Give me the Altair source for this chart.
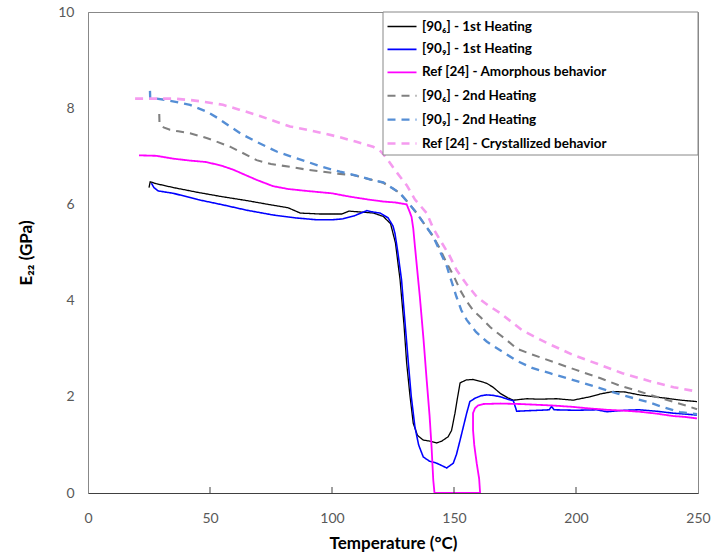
import altair as alt
import pandas as pd

series_names = [
    "[90\u2086] - 1st Heating",
    "[90\u2089] - 1st Heating",
    "Ref [24] - Amorphous behavior",
    "[90\u2086]  - 2nd Heating",
    "[90\u2089] - 2nd Heating",
    " Ref [24] - Crystallized behavior",
]

black_T = [25, 25.5, 28, 35, 45, 55, 65, 75, 82, 87, 95, 104, 107, 112, 117, 121, 124, 126, 127.9, 129.5, 130.6, 132, 133.3, 135, 137.4, 140, 142.9, 145, 147.6, 149, 150.4, 151.5, 152.5, 155, 157.8, 161, 163.4, 166, 169, 172, 174.3, 180, 185, 192, 198.8, 205.7, 210, 215.3, 220, 226, 232, 237, 243, 249.6]
black_E = [6.35, 6.47, 6.43, 6.35, 6.25, 6.16, 6.08, 5.99, 5.93, 5.82, 5.8, 5.8, 5.86, 5.84, 5.82, 5.75, 5.6, 5.2, 4.43, 3.5, 2.7, 2.0, 1.45, 1.2, 1.1, 1.08, 1.04, 1.08, 1.17, 1.3, 1.66, 2.0, 2.29, 2.35, 2.36, 2.32, 2.28, 2.2, 2.07, 1.98, 1.93, 1.96, 1.95, 1.96, 1.93, 2.0, 2.06, 2.11, 2.1, 2.04, 2.0, 1.97, 1.93, 1.9]

blue_T = [26, 27, 28.8, 35, 45, 55.3, 65, 75.8, 85, 93.8, 100, 104.5, 109, 114.3, 117, 119.7, 123, 125, 125.8, 127, 128.5, 130, 131.3, 132.5, 134, 135.5, 137.4, 140, 142.9, 145, 147, 149.7, 151, 152.5, 155.2, 156.5, 158.6, 161, 163.4, 166, 169, 172, 174.3, 175.7, 180, 185, 189, 190, 191, 200, 208.5, 212.6, 220, 226, 233, 239.8, 245, 249.6]
blue_E = [6.44, 6.35, 6.28, 6.23, 6.1, 5.99, 5.88, 5.78, 5.72, 5.68, 5.68, 5.7, 5.76, 5.87, 5.84, 5.82, 5.72, 5.55, 5.4, 5.0, 4.43, 3.5, 2.7, 2.0, 1.37, 1.0, 0.75, 0.66, 0.62, 0.57, 0.52, 0.62, 0.8, 1.1, 1.66, 1.9, 1.97, 2.02, 2.04, 2.03, 2.0, 1.95, 1.92, 1.7, 1.71, 1.72, 1.73, 1.8, 1.73, 1.72, 1.73, 1.69, 1.72, 1.73, 1.7, 1.66, 1.64, 1.62]

amor_T = [20.9, 28, 35, 42, 48.6, 55, 59.6, 65, 69.1, 75.8, 82, 89.6, 100, 107.4, 115, 121, 126, 130.6, 131.8, 132.6, 133.3, 134, 136, 137.5, 138.8, 140, 140.8, 141.5, 142, 160.7, 160.3, 159.3, 158.3, 157.8, 157.8, 158.6, 159.8, 162, 169, 177, 190, 198.8, 205, 212.6, 220, 226, 233, 239.8, 245, 249.6]
amor_E = [7.02, 7.01, 6.95, 6.91, 6.88, 6.8, 6.72, 6.6, 6.51, 6.38, 6.32, 6.28, 6.23, 6.16, 6.1, 6.06, 6.04, 6.0, 5.85, 5.74, 5.5, 5.12, 4.08, 3.2, 2.35, 1.6, 0.96, 0.27, 0.0, 0.0, 0.3, 0.62, 1.0, 1.31, 1.66, 1.76, 1.82, 1.85, 1.86, 1.85, 1.82, 1.79, 1.76, 1.73, 1.71, 1.69, 1.65, 1.6, 1.58, 1.55]

gray2_T = [29.2, 29.3, 31, 33.6, 37, 41.8, 48.6, 53, 58.2, 63, 69.1, 75, 82.8, 90, 96.3, 102, 108.6, 115.6, 121, 125, 127.9, 131, 134.7, 138, 141.5, 144, 147, 150, 152.5, 155, 157.8, 161, 164.8, 168, 171.6, 175.7, 182, 192, 200, 209.8, 218, 226, 235, 245, 249.6]
gray2_E = [7.88, 7.7, 7.6, 7.55, 7.52, 7.48, 7.38, 7.3, 7.2, 7.08, 6.92, 6.84, 6.78, 6.72, 6.68, 6.64, 6.61, 6.52, 6.45, 6.33, 6.23, 6.05, 5.82, 5.58, 5.33, 5.1, 4.78, 4.5, 4.22, 4.0, 3.8, 3.65, 3.45, 3.32, 3.18, 3.0, 2.88, 2.7, 2.56, 2.39, 2.23, 2.11, 1.97, 1.82, 1.74]

blue2_T = [25.4, 25.5, 28, 32.2, 37, 41.8, 48.6, 53, 58.2, 63, 69.1, 77.3, 83, 89.6, 96, 103.3, 110, 115.6, 121, 125, 127.9, 131, 134.7, 138, 141.5, 144, 147, 149, 151, 153, 155.2, 159, 163.4, 166, 171, 175.7, 182, 189.3, 200, 209.8, 220, 229, 236, 242.6, 249.6]
blue2_E = [8.36, 8.2, 8.2, 8.17, 8.12, 8.07, 7.93, 7.8, 7.62, 7.46, 7.3, 7.1, 7.0, 6.89, 6.78, 6.68, 6.6, 6.52, 6.46, 6.33, 6.23, 6.05, 5.82, 5.58, 5.33, 5.05, 4.72, 4.4, 4.08, 3.8, 3.6, 3.35, 3.15, 3.06, 2.9, 2.75, 2.6, 2.49, 2.33, 2.18, 2.02, 1.9, 1.78, 1.68, 1.64]

cryst_T = [19.3, 28.2, 35, 41.8, 48, 55.3, 62, 69.1, 76, 82.8, 90, 96.3, 103, 110, 116.8, 120, 122.4, 126, 130.6, 134, 138.8, 141.5, 144.3, 148, 151, 155, 159.3, 164, 169, 178, 188, 198.8, 209, 219, 230, 240, 249.6]
cryst_E = [8.2, 8.2, 8.2, 8.17, 8.13, 8.07, 7.97, 7.86, 7.74, 7.62, 7.55, 7.48, 7.4, 7.3, 7.2, 7.1, 6.96, 6.7, 6.4, 6.1, 5.82, 5.5, 5.26, 4.95, 4.64, 4.35, 4.08, 3.9, 3.74, 3.38, 3.12, 2.87, 2.68, 2.49, 2.33, 2.2, 2.11]

x_ticks = [50, 100, 150, 200]

colors = ["#000000", "#0000FF", "#FF00FF", "#808080", "#558ED5", "#F59BEF"]
dashes = [[1, 0], [1, 0], [1, 0], [8, 6], [8, 6], [8, 6]]
widths = [1.3, 2.6, 1.3, 3, 3, 3]

rows = []
for name, ts, es in zip(series_names,
                        [black_T, blue_T, amor_T, gray2_T, blue2_T, cryst_T],
                        [black_E, blue_E, amor_E, gray2_E, blue2_E, cryst_E]):
    for i, (t, e) in enumerate(zip(ts, es)):
        rows.append({"series": name, "T": t, "E": e, "i": i})
df = pd.DataFrame(rows)

FONT = "Lato"

def leg():
    return alt.Legend(
        title=None, orient="none", legendX=298, legendY=-1, padding=0,
        symbolType="stroke", symbolSize=841, labelFont=FONT, labelFontSize=13.5,
        labelFontWeight="bold", labelColor="#000000", rowPadding=0.9, labelOffset=4,
        labelLimit=400,
    )

W, H = 610, 481

lines = alt.Chart(df).mark_line(clip=True).encode(
    x=alt.X("T:Q", scale=alt.Scale(domain=[0, 250], nice=False),
            axis=alt.Axis(values=[0, 50, 100, 150, 200, 250], title="Temperature (°C)",
                          ticks=False, grid=False, domainColor="#404040", labelPadding=18,
                          labelFlush=False,
                          labelFont=FONT, labelFontSize=14, labelColor="#595959",
                          titleFont=FONT, titleFontSize=17, titleFontWeight="bold",
                          titleColor="#000000", titlePadding=10)),
    y=alt.Y("E:Q", scale=alt.Scale(domain=[0, 10], nice=False),
            axis=alt.Axis(values=[0, 2, 4, 6, 8, 10], title="E\u2082\u2082 (GPa)",
                          ticks=False, grid=False, domainColor="#888888", labelPadding=14,
                          labelFlush=False,
                          labelFont=FONT, labelFontSize=14, labelColor="#595959",
                          titleFont=FONT, titleFontSize=17, titleFontWeight="bold",
                          titleColor="#000000", titlePadding=22)),
    color=alt.Color("series:N", scale=alt.Scale(domain=series_names, range=colors), legend=leg()),
    strokeDash=alt.StrokeDash("series:N", scale=alt.Scale(domain=series_names, range=dashes), legend=leg()),
    strokeWidth=alt.StrokeWidth("series:N", scale=alt.Scale(domain=series_names, range=widths), legend=leg()),
    order=alt.Order("i:Q"),
)

ticks = alt.Chart(pd.DataFrame({"T": x_ticks})).mark_rule(color="#404040", strokeWidth=1).encode(
    x="T:Q", y=alt.value(H), y2=alt.value(H - 6)
)

box = alt.Chart(pd.DataFrame({"a": [0]})).mark_rect(
    fill="white", stroke="#888888", strokeWidth=1
).encode(x=alt.value(295), x2=alt.value(W), y=alt.value(0), y2=alt.value(143))

chart = alt.layer(lines, ticks, box).properties(
    width=W, height=H,
    padding={"left": 88, "top": 12, "right": 14, "bottom": 64},
    autosize="none",
).configure_view(stroke="#888888", strokeWidth=1)

chart.save("out.html", embed_options={"renderer": "svg", "actions": False})
